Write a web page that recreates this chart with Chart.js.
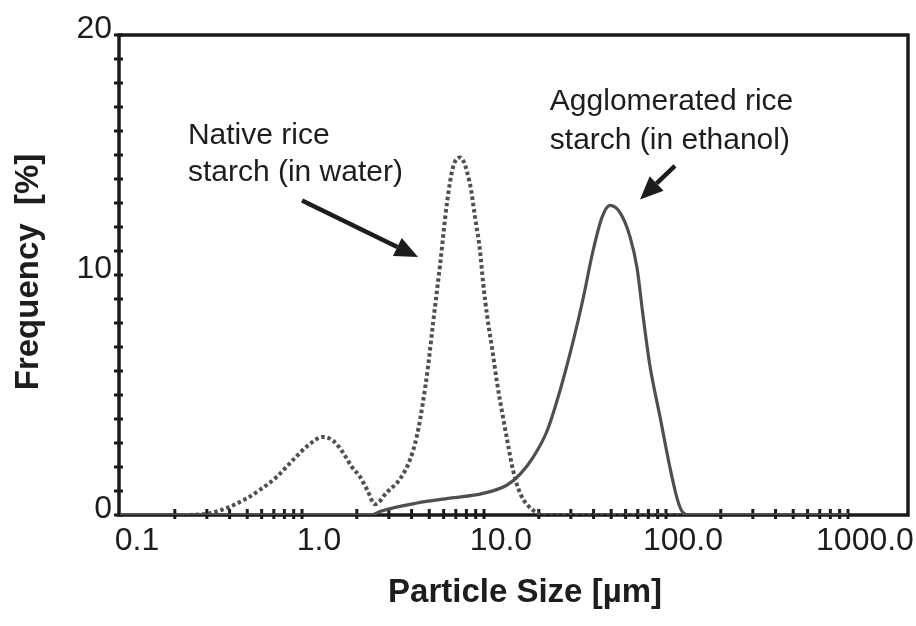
<!DOCTYPE html>
<html lang="en">
<head>
<meta charset="UTF-8" />
<title>Particle Size Distribution</title>
<script src="https://cdn.jsdelivr.net/npm/chart.js"></script>
<style>
  html, body { margin: 0; padding: 0; background: #fff; }
  #wrap { width: 916px; height: 626px; }
</style>
</head>
<body>
<div id="wrap"><canvas id="psd" width="916" height="626"></canvas></div>
<script>
// particle size in µm, frequency in %
const nativeSize = [0.1, 0.2, 0.3, 0.387, 0.499, 0.588, 0.729, 0.893, 1.08, 1.30, 1.48, 1.68, 1.88, 2.08, 2.28, 2.52,
  2.93, 3.45, 3.92, 4.28, 4.62, 4.93, 5.25, 5.73, 6.26, 6.76, 7.38, 8.37, 8.93, 9.51, 9.88, 10.4, 11.1, 11.8,
  12.7, 13.5, 14.4, 15.8, 18.6, 21.6, 50, 100, 200, 500, 1000];
const nativeFreq = [0, 0, 0.05, 0.3, 0.7, 1.05, 1.6, 2.3, 2.9, 3.25, 3.1, 2.6, 2.0, 1.6, 1.05, 0.45,
  0.95, 1.5, 2.3, 3.3, 4.7, 6.2, 8.0, 10.4, 13.0, 14.5, 14.9, 13.8, 12.4, 11.0, 9.7, 8.3, 6.9, 5.5,
  4.1, 3.0, 1.9, 0.9, 0.2, 0, 0, 0, 0, 0, 0];

const aggloSize = [0.1, 1, 2.4, 2.68, 4.29, 6.5, 9.88, 13.4, 15.8, 18.6, 22.2, 26.2, 30.8, 35.0, 39.7, 44.5,
  49.2, 55.9, 63.4, 69.3, 74.8, 81.7, 92.7, 105, 116, 124, 135, 300, 1000];
const aggloFreq = [0, 0, 0, 0.15, 0.5, 0.7, 0.9, 1.25, 1.7, 2.4, 3.5, 5.2, 7.2, 9.0, 11.0, 12.4,
  12.9, 12.6, 11.6, 10.3, 8.3, 6.2, 4.1, 2.0, 0.6, 0.1, 0, 0, 0];

const xMajorTicks = [0.1, 1, 10, 100, 1000];
const xTickLabels = ['0.1', '1.0', '10.0', '100.0', '1000.0'];
const yMajorTicks = [0, 10, 20];

// annotations, placed in data units
const notes = [
  { lines: ['Native rice', 'starch (in water)'], x: 0.236, y: [15.8, 14.25],
    arrow: { from: [1.0, 13.1], to: [4.34, 10.75] } },
  { lines: ['Agglomerated rice', 'starch (in ethanol)'], x: 23.0, y: [17.2, 15.6],
    arrow: { from: [112, 14.55], to: [72, 13.15] } }
];

const FONT = '"Liberation Sans", Arial, Helvetica, sans-serif';
const INK = '#1f1c1d';
const CURVE = '#4f4f4f';

// minor ticks 1..9 in each decade
const xTickValues = [];
for (let i = 0; i < xMajorTicks.length - 1; i++) {
  for (let m = 1; m < 10; m++) xTickValues.push(m === 1 ? xMajorTicks[i] : xMajorTicks[i] * m);
}
xTickValues.push(xMajorTicks[xMajorTicks.length - 1]);

const framePlugin = {
  id: 'frame',
  beforeDatasetsDraw(chart) {
    const { ctx, chartArea: a, scales: { x, y } } = chart;
    ctx.save();
    ctx.strokeStyle = '#1a1a1a';
    ctx.lineWidth = 3.5;
    ctx.strokeRect(a.left, a.top, a.right - a.left, a.bottom - a.top);
    ctx.lineWidth = 3;
    ctx.beginPath();
    x.ticks.forEach(t => {
      const px = x.getPixelForValue(t.value);
      if (px > a.left + 3 && px < a.right - 3) { ctx.moveTo(px, a.bottom - 6); ctx.lineTo(px, a.bottom + 4); }
    });
    y.ticks.forEach(t => {
      const py = y.getPixelForValue(t.value);
      ctx.moveTo(a.left - 5, py); ctx.lineTo(a.left + 4, py);
    });
    ctx.stroke();
    ctx.restore();
  },
  afterDraw(chart) {
    const { ctx, chartArea: a, scales: { x, y } } = chart;
    ctx.save();
    ctx.fillStyle = INK;
    ctx.strokeStyle = INK;

    // axis titles
    ctx.font = 'bold 33px ' + FONT;
    ctx.textAlign = 'center';
    ctx.textBaseline = 'middle';
    ctx.fillText('Particle Size [µm]', 525, 593);
    ctx.save();
    ctx.translate(29, (a.top + a.bottom) / 2 - 3);
    ctx.rotate(-Math.PI / 2);
    ctx.fillText('Frequency  [%]', 0, 0);
    ctx.restore();

    // annotations
    ctx.font = '30px ' + FONT;
    ctx.textAlign = 'left';
    notes.forEach(n => {
      const tx = x.getPixelForValue(n.x);
      n.lines.forEach((line, i) => ctx.fillText(line, tx, y.getPixelForValue(n.y[i])));
      const x0 = x.getPixelForValue(n.arrow.from[0]), y0 = y.getPixelForValue(n.arrow.from[1]);
      const x1 = x.getPixelForValue(n.arrow.to[0]), y1 = y.getPixelForValue(n.arrow.to[1]);
      const ang = Math.atan2(y1 - y0, x1 - x0);
      const head = 23, half = 10;
      const bx = x1 - head * Math.cos(ang), by = y1 - head * Math.sin(ang);
      ctx.lineWidth = 4.5;
      ctx.beginPath();
      ctx.moveTo(x0, y0);
      ctx.lineTo(bx, by);
      ctx.stroke();
      ctx.beginPath();
      ctx.moveTo(x1, y1);
      ctx.lineTo(bx + half * Math.sin(ang), by - half * Math.cos(ang));
      ctx.lineTo(bx - half * Math.sin(ang), by + half * Math.cos(ang));
      ctx.closePath();
      ctx.fill();
    });
    ctx.restore();
  }
};

new Chart(document.getElementById('psd'), {
  type: 'line',
  data: {
    datasets: [
      {
        label: 'Native rice starch (in water)',
        data: nativeSize.map((s, i) => ({ x: s, y: nativeFreq[i] })),
        borderColor: CURVE, borderWidth: 4, borderDash: [3.5, 2.8],
        pointRadius: 0, fill: false, cubicInterpolationMode: 'monotone'
      },
      {
        label: 'Agglomerated rice starch (in ethanol)',
        data: aggloSize.map((s, i) => ({ x: s, y: aggloFreq[i] })),
        borderColor: CURVE, borderWidth: 3.2,
        pointRadius: 0, fill: false, cubicInterpolationMode: 'monotone'
      }
    ]
  },
  options: {
    responsive: false,
    animation: false,
    devicePixelRatio: 1,
    layout: { padding: { top: 35, right: 8, left: 0, bottom: 0 } },
    plugins: { legend: { display: false }, tooltip: { enabled: false } },
    scales: {
      x: {
        type: 'logarithmic',
        min: 0.0987, max: 2137,
        afterFit: s => { s.height = 111; },
        afterBuildTicks: s => { s.ticks = xTickValues.map(v => ({ value: v })); },
        grid: { display: false, drawTicks: false },
        border: { display: false },
        ticks: {
          autoSkip: false, maxRotation: 0, minRotation: 0,
          labelOffset: 17, padding: 7,
          color: INK, font: { family: FONT, size: 32 },
          callback: v => { const i = xMajorTicks.indexOf(v); return i >= 0 ? xTickLabels[i] : ''; }
        }
      },
      y: {
        min: 0, max: 20,
        afterFit: s => { s.width = 119; },
        grid: { display: false, drawTicks: false },
        border: { display: false },
        ticks: {
          stepSize: 1, autoSkip: false,
          labelOffset: -6, padding: 7,
          color: INK, font: { family: FONT, size: 32 },
          callback: v => yMajorTicks.includes(v) ? String(v) : ''
        }
      }
    }
  },
  plugins: [framePlugin]
});
</script>
</body>
</html>
